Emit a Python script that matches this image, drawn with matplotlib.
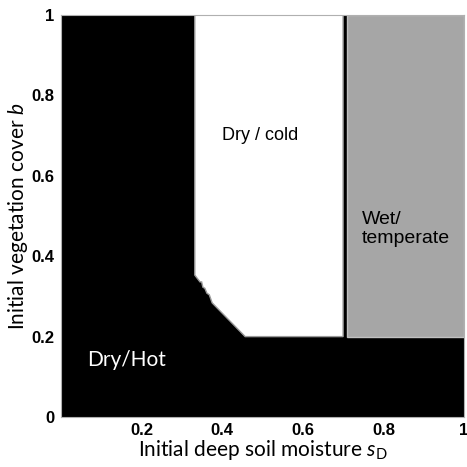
import matplotlib
matplotlib.use("Agg")
import matplotlib.pyplot as plt

# --- DATA ---
# boundary of the dry/cold regime (initial deep soil moisture, initial vegetation cover)
cold_s = [0.332, 0.332, 0.338, 0.345, 0.349, 0.352, 0.357, 0.362, 0.368, 0.375, 0.457, 0.700, 0.700]
cold_b = [1.0, 0.353, 0.345, 0.336, 0.336, 0.323, 0.320, 0.308, 0.304, 0.284, 0.200, 0.200, 1.0]
# boundary of the wet/temperate regime
wet_s = [0.710, 0.710, 1.0, 1.0]
wet_b = [1.0, 0.200, 0.200, 1.0]

x_ticks = [0.2, 0.4, 0.6, 0.8, 1.0]
x_tick_labels = ["0.2", "0.4", "0.6", "0.8", "1"]
y_ticks = [0, 0.2, 0.4, 0.6, 0.8, 1.0]
y_tick_labels = ["0", "0.2", "0.4", "0.6", "0.8", "1"]

# --- STYLE ---
plt.rcParams["mathtext.fontset"] = "custom"
plt.rcParams["mathtext.rm"] = "Lato"
plt.rcParams["mathtext.it"] = "Lato:italic"

fig = plt.figure(figsize=(4.67, 4.67), dpi=100)
ax = fig.add_axes([0.1306, 0.107, 0.863, 0.861])

# dry/hot is everything else, so the background is black
ax.set_facecolor("black")
ax.fill(cold_s, cold_b, facecolor="white", edgecolor="#9a9a9a", linewidth=1.0)
ax.fill(wet_s, wet_b, facecolor="#a6a6a6", edgecolor="#c0c0c0", linewidth=1.0)

ax.set_xlim(0, 1)
ax.set_ylim(0, 1)

# regime labels
ax.text(0.494, 0.70, "Dry / cold", fontsize=13, family="Liberation Sans",
        ha="center", va="center", color="black")
ax.text(0.747, 0.468, "Wet/\ntemperate", fontsize=14, family="Liberation Sans",
        ha="left", va="center", color="black", linespacing=1.1)
ax.text(0.065, 0.142, "Dry/Hot", fontsize=15, family="Lato",
        ha="left", va="center", color="white")

# ticks
ax.set_xticks(x_ticks)
ax.set_xticklabels(x_tick_labels)
ax.set_yticks(y_ticks)
ax.set_yticklabels(y_tick_labels)
ax.tick_params(length=0, labelsize=12)
ax.tick_params(axis="x", pad=4)
ax.tick_params(axis="y", pad=5)
for lbl in ax.get_xticklabels() + ax.get_yticklabels():
    lbl.set_fontfamily("Liberation Sans")
    lbl.set_fontweight("bold")

# axis labels
ax.set_xlabel(r"Initial deep soil moisture $\it{s}_\mathrm{D}$", fontsize=15,
              family="Lato", labelpad=0)
ax.set_ylabel(r"Initial vegetation cover $\it{b}$", fontsize=15,
              family="Lato", labelpad=1)

for sp in ax.spines.values():
    sp.set_color("#b0b0b0")
    sp.set_linewidth(0.8)

fig.savefig("out.png", dpi=100)
